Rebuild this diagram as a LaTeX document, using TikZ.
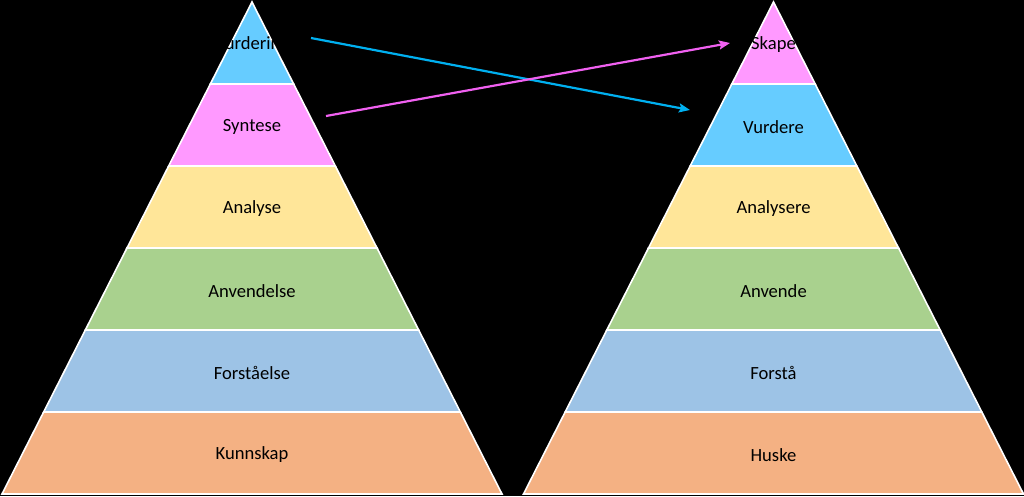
\documentclass[tikz,border=0pt]{standalone}
\usepackage{fontspec}
\setmainfont{Carlito}
\usetikzlibrary{arrows.meta,calc}
\definecolor{cVur}{HTML}{66CCFF}
\definecolor{cSyn}{HTML}{FF99FF}
\definecolor{cAna}{HTML}{FFE699}
\definecolor{cAnv}{HTML}{A9D18E}
\definecolor{cFor}{HTML}{9DC3E6}
\definecolor{cKun}{HTML}{F4B183}
\definecolor{arrBlue}{HTML}{00B0F0}
\definecolor{arrPink}{HTML}{F060F0}
\tikzset{
  layer/.style={draw=white,line width=1.6pt,line join=miter},
  lbl/.style={font=\fontsize{18.6}{22}\selectfont,text=black,inner sep=0pt},
  arr/.style={line width=2.2pt,-{Stealth[length=11pt,width=9pt,inset=2pt]}}
}
\begin{document}
\begin{tikzpicture}[x=1pt,y=-1pt]
\useasboundingbox (0,0) rectangle (1024,496);
\fill[black] (0,0) rectangle (1024,496);
% left pyramid
\foreach \k/\c/\t/\n in {0/cVur/Vurdering/lA,1/cSyn/Syntese/lB,2/cAna/Analyse/lC,3/cAnv/Anvendelse/lD,4/cFor/Forståelse/lE,5/cKun/Kunnskap/lF}{
  \pgfmathsetmacro\ya{2+82*\k}
  \pgfmathsetmacro\yb{2+82*(\k+1)}
  \pgfmathsetmacro\ha{(\ya-2)/492*250}
  \pgfmathsetmacro\hb{(\yb-2)/492*250}
  \filldraw[layer,fill=\c] ({252-\ha},\ya) -- ({252+\ha},\ya) -- ({252+\hb},\yb) -- ({252-\hb},\yb) -- cycle;
  \node[lbl] (\n) at (252,{\ya+43}) {\t};
}
% right pyramid
\foreach \k/\c/\t/\n in {0/cSyn/Skape/rA,1/cVur/Vurdere/rB,2/cAna/Analysere/rC,3/cAnv/Anvende/rD,4/cFor/Forstå/rE,5/cKun/Huske/rF}{
  \pgfmathsetmacro\ya{2+82*\k}
  \pgfmathsetmacro\yb{2+82*(\k+1)}
  \pgfmathsetmacro\ha{(\ya-2)/492*250}
  \pgfmathsetmacro\hb{(\yb-2)/492*250}
  \filldraw[layer,fill=\c] ({773.5-\ha},\ya) -- ({773.5+\ha},\ya) -- ({773.5+\hb},\yb) -- ({773.5-\hb},\yb) -- cycle;
  \node[lbl] (\n) at (773.5,{\ya+43}) {\t};
}
% arrows
\coordinate (bs) at (311,38);
\coordinate (be) at (690,110);
\coordinate (ps) at (326,116);
\coordinate (pe) at (730,43);
\draw[arr,arrBlue] (bs) -- (be);
\draw[arr,arrPink] (ps) -- (pe);
\end{tikzpicture}
\end{document}
